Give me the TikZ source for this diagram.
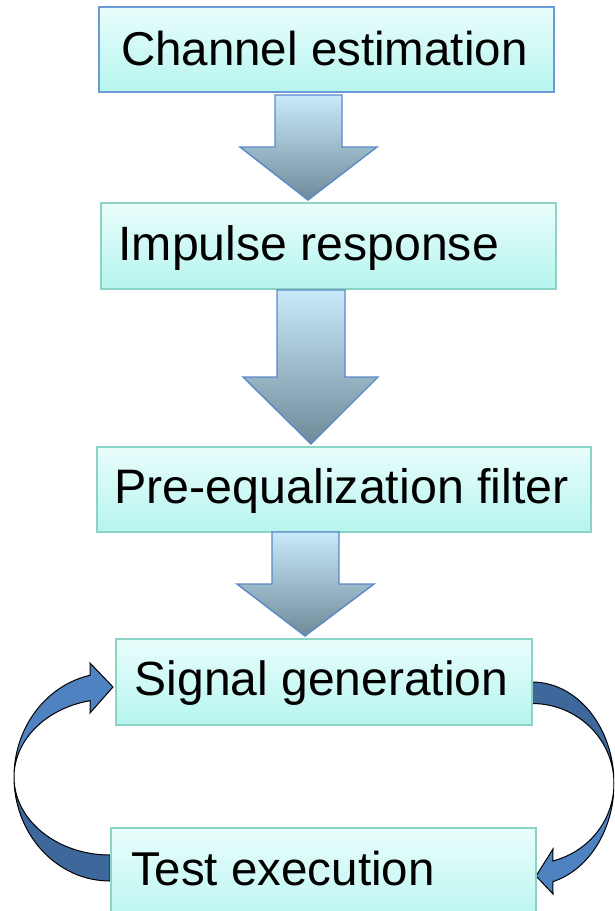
\documentclass[tikz,border=0pt]{standalone}
\usepackage{fontspec}
\setmainfont{Liberation Sans}
\definecolor{boxtop}{HTML}{E9FDFC}
\definecolor{boxbot}{HTML}{B6F5EE}
\definecolor{boxline}{HTML}{8CD3C5}
\definecolor{boxlineblue}{HTML}{6C9AD6}
\definecolor{arrtop}{HTML}{C9EAFB}
\definecolor{arrbot}{HTML}{6F8A99}
\definecolor{arrline}{HTML}{5A88C8}
\definecolor{curvelight}{HTML}{4F82C0}
\definecolor{curvedark}{HTML}{3E679C}
\begin{document}
\begin{tikzpicture}[x=1pt,y=-1pt,
  box/.style={draw=boxline, line width=1.3pt, top color=boxtop, bottom color=boxbot,
    anchor=north west, inner sep=0pt, outer sep=0pt},
  lbl/.style={anchor=base west, inner sep=0pt, outer sep=0pt,
    font=\fontsize{#1}{52}\selectfont, text=black},
  lbl/.default=47.5,
  downarr/.style={draw=arrline, line width=1.4pt, line join=miter, top color=arrtop, bottom color=arrbot},
  curvefront/.style={draw=black, line width=1pt, fill=curvelight, line join=miter},
  curveback/.style={draw=black, line width=1pt, fill=curvedark, line join=miter}]
\useasboundingbox (0,0) rectangle (614,911);
\clip (0,0) rectangle (614,911);

% curved feedback arrows (drawn under the boxes)
% left: Test execution -> Signal generation
\path[curveback] (14,777) arc[start angle=180,end angle=90,x radius=96,y radius=104]
  -- (110,855) arc[start angle=90,end angle=180,x radius=96,y radius=78] -- cycle;
\path[curvefront] (110,777) ++(258:96 and 104)
  arc[start angle=258,end angle=180,x radius=96,y radius=104]
  arc[start angle=180,end angle=258,x radius=96,y radius=78]
  -- (90,713) -- (113,687) -- (90,663) -- cycle;
% right: Signal generation -> Test execution
\path[curveback] (532,682) arc[start angle=270,end angle=360,x radius=82,y radius=101.5]
  arc[start angle=0,end angle=-90,x radius=82,y radius=80] -- cycle;
\path[curvefront] (614,783.5)
  arc[start angle=0,end angle=75.2,x radius=82,y radius=101.5]
  -- (553,894) -- (536,876) -- (553,849) -- (552.9,860.9)
  arc[start angle=75.2,end angle=0,x radius=82,y radius=80] -- cycle;

% boxes
\node[box, draw=boxlineblue, minimum width=455pt, minimum height=85pt] (b1) at (99,7) {};
\node[box, minimum width=455pt, minimum height=86pt] (b2) at (101,203) {};
\node[box, minimum width=494pt, minimum height=85pt] (b3) at (97,447) {};
\node[box, minimum width=416pt, minimum height=86pt] (b4) at (116,639) {};
\node[box, minimum width=425pt, minimum height=100pt] (b5) at (111,828) {};

% labels
\node[lbl=47.5] (t1) at (121,65) {Channel estimation};
\node[lbl=48.2] (t2) at (118.5,260) {Impulse response};
\node[lbl=48.4] (t3) at (114.3,503) {Pre-equalization filter};
\node[lbl=48.0] (t4) at (134.8,695) {Signal generation};
\node[lbl=47.5] (t5) at (131,885) {Test execution};

% block arrows between the boxes
\path[downarr] (275,95) -- (342,95) -- (342,147) -- (377,147) -- (308,200)
  -- (240,147) -- (275,147) -- cycle;
\path[downarr] (277,290) -- (345,290) -- (345,377) -- (378,377) -- (311,444)
  -- (243,377) -- (277,377) -- cycle;
\path[downarr] (272,532) -- (339,532) -- (339,584) -- (374,584) -- (305,636)
  -- (237,584) -- (272,584) -- cycle;
\end{tikzpicture}
\end{document}
